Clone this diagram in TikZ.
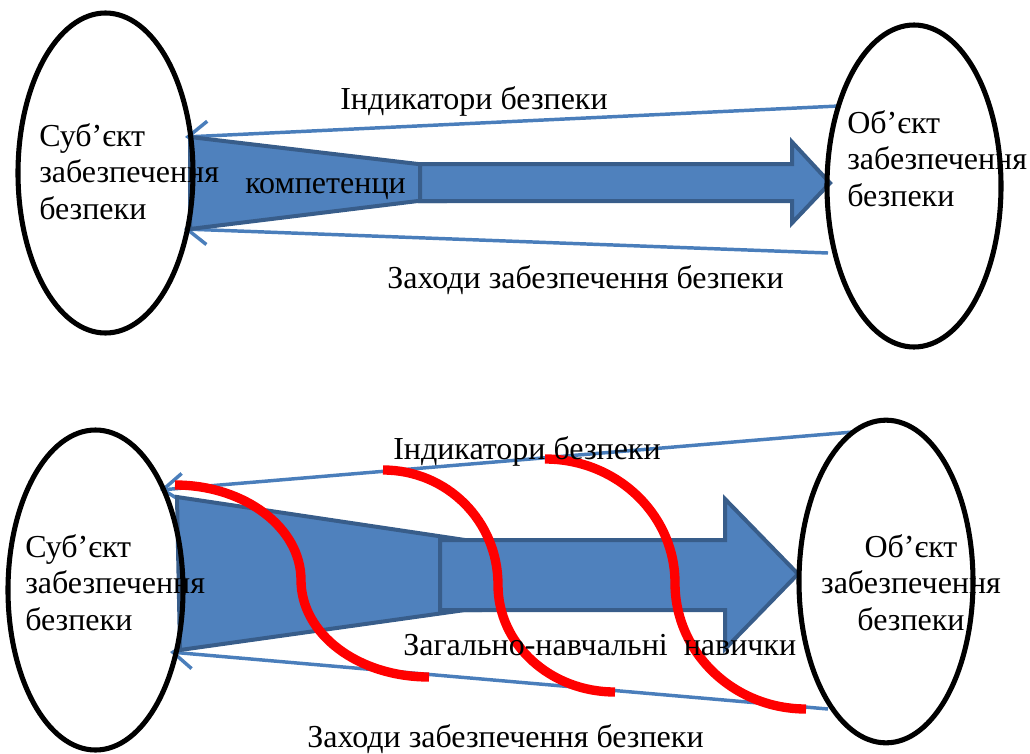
\documentclass[tikz,border=0pt]{standalone}
\usepackage{fontspec}
\setmainfont{Liberation Serif}
\usetikzlibrary{shapes.geometric,arrows.meta}
\definecolor{fillblue}{HTML}{4F81BD}
\definecolor{edgeblue}{HTML}{385D8A}
\definecolor{lineblue}{HTML}{4A7EBB}
\definecolor{redline}{HTML}{FF0000}
\newcommand{\bigfont}{\fontsize{24}{27.4}\selectfont}
\begin{document}
\begin{tikzpicture}[x=0.75pt,y=-0.75pt,
  oval/.style={ellipse, draw=black, line width=3.8pt, inner sep=0pt},
  link/.style={draw=lineblue, line width=2.6pt, -{Straight Barb[length=15pt,width=22pt]}},
  band/.style={fill=fillblue, draw=edgeblue, line width=3pt, line join=miter},
  wave/.style={draw=redline, line width=7pt, line cap=butt},
  lbl/.style={inner sep=0pt, anchor=base west, font=\bigfont},
  clbl/.style={inner sep=0pt, anchor=base, font=\bigfont},
]
\useasboundingbox (0,0) rectangle (1030,753);

% ---------- top diagram ----------
\coordinate (i1s) at (839,106);
\coordinate (i1e) at (185,137);
\coordinate (z1s) at (828,253);
\coordinate (z1e) at (184,229);
\draw[link] (i1s) -- (i1e);
\draw[link] (z1s) -- (z1e);

\draw[band] (190,137) -- (418,164) -- (445,164) -- (445,201) -- (418,201) -- (190,229) -- cycle;
\draw[band] (420,164) -- (792,164) -- (792,142) -- (830,183) -- (792,223) -- (792,201) -- (420,201) -- cycle;

\node[oval, minimum width=131.25pt, minimum height=240pt] (subjA) at (105.5,173) {};
\node[oval, minimum width=130.5pt, minimum height=241.5pt] (objA) at (914,186) {};

\node[lbl] (subjAt) at (39,146) {\parbox[t]{200pt}{\raggedright Суб’єкт\\забезпечення\\безпеки}};
\node[lbl] (objAt) at (847,133) {\parbox[t]{200pt}{\raggedright Об’єкт\\забезпечення\\безпеки}};
\node[lbl] (indA) at (340,109) {Індикатори безпеки};
\node[lbl] (zahA) at (387,288) {Заходи забезпечення безпеки};
\node[lbl] (komp) at (245,193) {компетенци};

% ---------- bottom diagram ----------
\coordinate (i2s) at (853,432);
\coordinate (i2e) at (160,490);
\coordinate (z2s) at (828,709);
\coordinate (z2e) at (170,652);
\draw[link] (i2s) -- (i2e);
\draw[link] (z2s) -- (z2e);

\draw[band] (177,497) -- (465,540) -- (480,540) -- (480,610) -- (465,610) -- (180,650) -- cycle;
\draw[band] (440,540) -- (725,540) -- (725,499) -- (798,574) -- (725,649) -- (725,610) -- (440,610) -- cycle;

\node[oval, minimum width=131.25pt, minimum height=240pt] (subjB) at (95.5,590) {};
\node[oval, minimum width=130.5pt, minimum height=242pt] (objB) at (886,581.5) {};

\draw[wave] (175,485) .. controls (245,485) and (301,528) .. (301,580)
            .. controls (301,634) and (358,677) .. (429,677);
\draw[wave] (383,470) .. controls (447,470) and (498,521) .. (498,585)
            .. controls (498,644) and (550,692) .. (615,692);
\draw[wave] (545,459) .. controls (617,459) and (675,515) .. (675,583)
            .. controls (675,653) and (734,709) .. (806,709);

\node[lbl] (subjBt) at (25,557) {\parbox[t]{200pt}{\raggedright Суб’єкт\\забезпечення\\безпеки}};
\node[clbl] (objBt) at (911,557) {\parbox[t]{200pt}{\centering Об’єкт\\забезпечення\\безпеки}};
\node[lbl] (indB) at (393,459) {Індикатори безпеки};
\node[lbl] (navB) at (403,655) {Загально-навчальні\ \ навички};
\node[lbl] (zahB) at (307,747) {Заходи забезпечення безпеки};
\end{tikzpicture}
\end{document}
